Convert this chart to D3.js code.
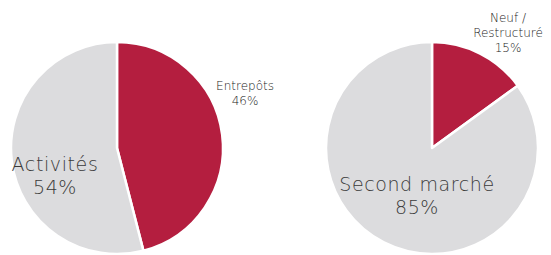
<!DOCTYPE html>
<html>
<head>
<meta charset="utf-8">
<script src="https://cdn.jsdelivr.net/npm/d3@7"></script>
<style>
  body { margin: 0; background: #fff; }
  text { font-family: "DejaVu Sans", sans-serif; font-weight: 200; fill: #3a3a3a; }
  text.small { fill: #1a1a1a; }
</style>
</head>
<body>
<div id="chart"></div>
<script>
var leftLabels = ["Entrepôts", "Activités"],
    leftValues = [46, 54];
var rightLabels = ["Neuf / Restructuré", "Second marché"],
    rightValues = [15, 85];
var colors = ["#b41e3f", "#dcdcde"];

var width = 551, height = 255, radius = 106;

var svg = d3.select("#chart").append("svg")
    .attr("width", width)
    .attr("height", height);

var pie = d3.pie().sort(null).value(function(d) { return d; });
var arc = d3.arc().innerRadius(0).outerRadius(radius);

function drawPie(cx, cy, values) {
    var g = svg.append("g")
        .attr("transform", "translate(" + cx + "," + cy + ")");
    g.selectAll("path")
        .data(pie(values))
      .enter().append("path")
        .attr("d", arc)
        .attr("fill", function(d, i) { return colors[i]; })
        .attr("stroke", "#fff")
        .attr("stroke-width", 2.5)
        .attr("stroke-linejoin", "round");
    return g;
}

// one text element per line
function label(x, y, lines, size, lh, ls) {
    lines.forEach(function(l, i) {
        svg.append("text")
            .attr("class", size < 14 ? "small" : "big")
            .attr("text-anchor", "middle")
            .attr("font-size", size)
            .attr("letter-spacing", ls || 0)
            .attr("x", x)
            .attr("y", y + i * lh)
            .text(l);
    });
}

drawPie(117, 148, leftValues);
drawPie(432, 148, rightValues);

// Left pie labels
label(245, 90, [leftLabels[0], leftValues[0] + "%"], 12, 14.5);
label(55, 171, [leftLabels[1], leftValues[1] + "%"], 19, 22.5, 0.6);

// Right pie labels
label(508, 22, ["Neuf /", "Restructuré", rightValues[0] + "%"], 12, 15);
label(417, 191, [rightLabels[1], rightValues[1] + "%"], 19, 22.5, 0.6);
</script>
</body>
</html>
